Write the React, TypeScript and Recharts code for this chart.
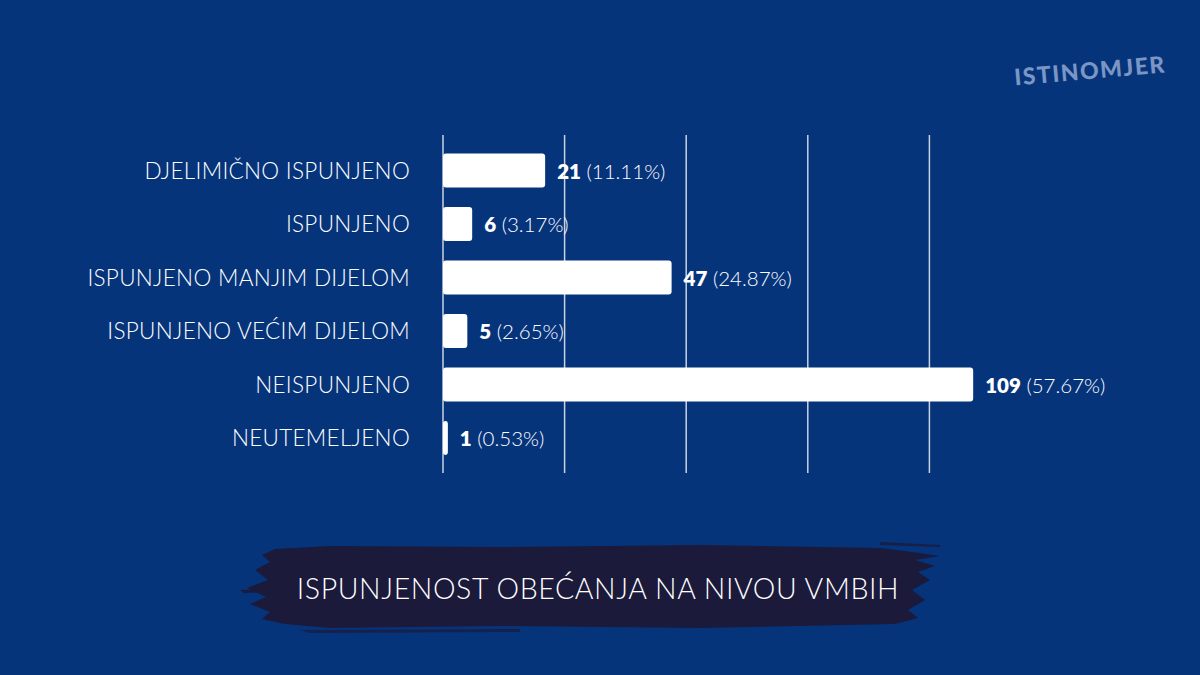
import React from "react";
import { BarChart, Bar, XAxis, YAxis, CartesianGrid, LabelList } from "recharts";

const categories = [
  "DJELIMIČNO ISPUNJENO",
  "ISPUNJENO",
  "ISPUNJENO MANJIM DIJELOM",
  "ISPUNJENO VEĆIM DIJELOM",
  "NEISPUNJENO",
  "NEUTEMELJENO",
];
const counts = [21, 6, 47, 5, 109, 1];
const percents = ["11.11%", "3.17%", "24.87%", "2.65%", "57.67%", "0.53%"];
const xTicks = [0, 25, 50, 75, 100];
const xMax = 125;
const title = "ISPUNJENOST OBEĆANJA NA NIVOU VMBIH";
const logoText = "ISTINOMJER";

const data = categories.map((c, i) => ({ name: c, value: counts[i], pct: percents[i] }));

const BG = "#06347b";
const BRUSH = "#1b1a3b";
const FONT = "Lato, 'Open Sans', sans-serif";

const ValueLabel = (props: any) => {
  const { x, y, width, height, index } = props;
  const d = data[index];
  return (
    <text
      x={x + width + 12}
      y={y + height / 2}
      dominantBaseline="central"
      fontFamily={FONT}
      fontSize={20.5}
      fill="#ffffff"
    >
      <tspan fontWeight={800}>{d.value}</tspan>
      <tspan fontWeight={300}> ({d.pct})</tspan>
    </text>
  );
};

const CatTick = (props: any) => {
  const { x, y, payload } = props;
  return (
    <text
      x={x}
      y={y}
      textAnchor="end"
      dominantBaseline="central"
      fontFamily={FONT}
      fontSize={22.5}
      fontWeight={300}
      fill="#ffffff"
      letterSpacing={0.3}
    >
      {payload.value}
    </text>
  );
};

const gridGen = (p: any) => {
  const sc = p && p.xAxis && p.xAxis.scale;
  if (typeof sc === "function") return xTicks.map((t) => sc(t));
  if (sc && typeof sc.map === "function") return xTicks.map((t) => sc.map(t));
  const off = p.offset;
  return xTicks.map((t) => off.left + (t / xMax) * off.width);
};

const brushPath =
  "M 275 549 L 330 546 L 500 547 L 700 545 L 880 548 L 905 551 L 940 556 L 915 560 L 935 566 L 918 572 L 930 580 L 912 590 L 925 600 L 908 610 L 918 618 L 895 624 L 700 628 L 500 626 L 330 628 L 285 624 L 262 619 L 270 612 L 250 604 L 266 597 L 247 588 L 268 580 L 255 570 L 270 562 L 262 555 Z";

export default function App() {
  return (
    <div
      style={{
        position: "fixed",
        left: 0,
        top: 0,
        width: 1200,
        height: 675,
        background: BG,
        overflow: "hidden",
      }}
    >
      <svg width={1200} height={675} style={{ position: "absolute", left: 0, top: 0 }}>
        <path d={brushPath} fill={BRUSH} />
        <path d="M 240 590 L 300 588 L 300 591 L 244 593 Z" fill={BRUSH} />
        <path d="M 880 542 L 940 545 L 940 547 L 880 545 Z" fill={BRUSH} opacity={0.8} />
        <path d="M 300 630 L 520 629 L 520 632 L 310 633 Z" fill={BRUSH} opacity={0.7} />
        <text
          x={598}
          y={588}
          textAnchor="middle"
          dominantBaseline="central"
          fontFamily={FONT}
          fontSize={28.5}
          fontWeight={300}
          fill="#ffffff"
          letterSpacing={0.6}
        >
          {title}
        </text>
        <text
          x={1090}
          y={70}
          textAnchor="middle"
          dominantBaseline="central"
          fontFamily={FONT}
          fontSize={23}
          fontWeight={900}
          fill="#7b96c4"
          letterSpacing={1.5}
          transform="rotate(-5 1090 70)"
        >
          {logoText}
        </text>
      </svg>
      <div style={{ position: "absolute", left: 0, top: 0 }}>
        <BarChart
          width={1200}
          height={675}
          data={data}
          layout="vertical"
          margin={{ top: 135, right: 149, bottom: 202, left: 0 }}
          barSize={34}
        >
          <CartesianGrid
            horizontal={false}
            vertical={true}
            stroke="#c9d2e3"
            strokeWidth={1.5}
            verticalCoordinatesGenerator={gridGen}
          />
          <XAxis type="number" domain={[0, xMax]} ticks={xTicks} hide />
          <YAxis
            type="category"
            dataKey="name"
            width={443}
            axisLine={false}
            tickLine={false}
            tickSize={0}
            tickMargin={33}
            tick={<CatTick />}
            padding={{ top: 8.5, bottom: 8.5 }}
          />
          <Bar dataKey="value" fill="#ffffff" radius={[3, 3, 3, 3]} isAnimationActive={false}>
            <LabelList dataKey="value" content={<ValueLabel />} />
          </Bar>
        </BarChart>
      </div>
    </div>
  );
}
